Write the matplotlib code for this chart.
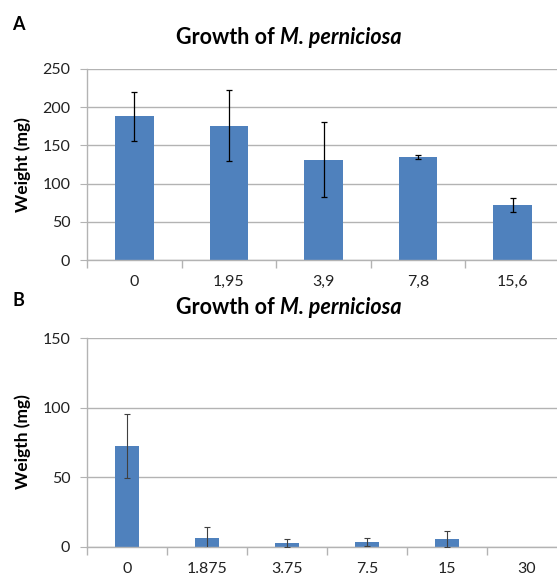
import numpy as np
import matplotlib
matplotlib.use('Agg')
import matplotlib.pyplot as plt

# Panel A data
cats_a = ['0', '1,95', '3,9', '7,8', '15,6']
weight_a = [188, 176, 131, 135, 72]
err_a = [32, 46, 49, 3, 9]

# Panel B data
cats_b = ['0', '1.875', '3.75', '7.5', '15', '30']
weight_b = [72.5, 6.5, 2.7, 3.4, 5.5, 0]
err_b = [23, 7.5, 2.8, 2.6, 6, 0]

BAR = '#4F81BD'
GRID = '#b3b3b3'
W, H = 557, 576

plt.rcParams['font.family'] = ['Lato', 'DejaVu Sans']


def style_axes(ax, n, ymax, step):
    ax.set_xlim(-0.5, n - 0.5)
    ax.set_ylim(0, ymax)
    ax.set_yticks(np.arange(0, ymax + 1, step))
    ax.yaxis.grid(True, color=GRID, linewidth=1)
    ax.set_axisbelow(True)
    for s in ['top', 'right']:
        ax.spines[s].set_visible(False)
    for s in ['left', 'bottom']:
        ax.spines[s].set_color(GRID)
        ax.spines[s].set_linewidth(1)
    ax.tick_params(axis='y', length=5, color=GRID, labelsize=11.5, pad=7,
                   labelcolor='#222222')
    # category labels centred, tick marks between categories
    ax.tick_params(axis='x', which='major', length=0, labelsize=11.5, pad=11,
                   labelcolor='#222222')
    ax.set_xticks(np.arange(-0.5, n, 1.0), minor=True)
    ax.tick_params(axis='x', which='minor', length=6, color=GRID, width=1)


def title(fig, y):
    r = fig.canvas.get_renderer()
    t1 = fig.text(0, y, 'Growth of ', fontsize=15.5, fontweight='bold', va='center')
    t2 = fig.text(0, y, 'M. perniciosa', fontsize=15.5, fontweight='bold',
                  fontstyle='italic', va='center')
    w1 = t1.get_window_extent(r).width
    w2 = t2.get_window_extent(r).width
    x0 = 289 - (w1 + w2) / 2
    t1.set_x(x0 / W)
    t2.set_x((x0 + w1) / W)


fig = plt.figure(figsize=(W / 100, H / 100), dpi=100)

ax1 = fig.add_axes([87 / W, 1 - 260 / H, 473 / W, 191 / H])
x = np.arange(len(cats_a))
ax1.bar(x, weight_a, width=0.41, color=BAR, zorder=2)
ax1.errorbar(x, weight_a, yerr=err_a, fmt='none', ecolor='black',
             elinewidth=0.9, capsize=2.5, capthick=0.9, zorder=3)
style_axes(ax1, len(cats_a), 250, 50)
ax1.set_xticks(x)
ax1.set_xticklabels(cats_a)
fig.text(23 / W, 1 - 165 / H, 'Weight (mg)', rotation=90, fontsize=12.5,
         fontweight='bold', ha='center', va='center')

ax2 = fig.add_axes([87 / W, 1 - 546.7 / H, 480 / W, 208.4 / H])
x = np.arange(len(cats_b))
ax2.bar(x, weight_b, width=0.31, color=BAR, zorder=2)
ax2.errorbar(x[:-1], weight_b[:-1], yerr=err_b[:-1], fmt='none', ecolor='#404040',
             elinewidth=0.8, capsize=2.5, capthick=0.8, zorder=3)
style_axes(ax2, len(cats_b), 150, 50)
ax2.set_xticks(x)
ax2.set_xticklabels(cats_b)
fig.text(23 / W, 1 - 442 / H, 'Weigth (mg)', rotation=90, fontsize=12.5,
         fontweight='bold', ha='center', va='center')

title(fig, 1 - 37 / H)
title(fig, 1 - 307 / H)
fig.text(18 / W, 1 - 25 / H, 'A', fontsize=13, fontweight='bold', ha='center', va='center')
fig.text(18 / W, 1 - 301 / H, 'B', fontsize=13, fontweight='bold', ha='center', va='center')

fig.savefig('out.png', dpi=100)
